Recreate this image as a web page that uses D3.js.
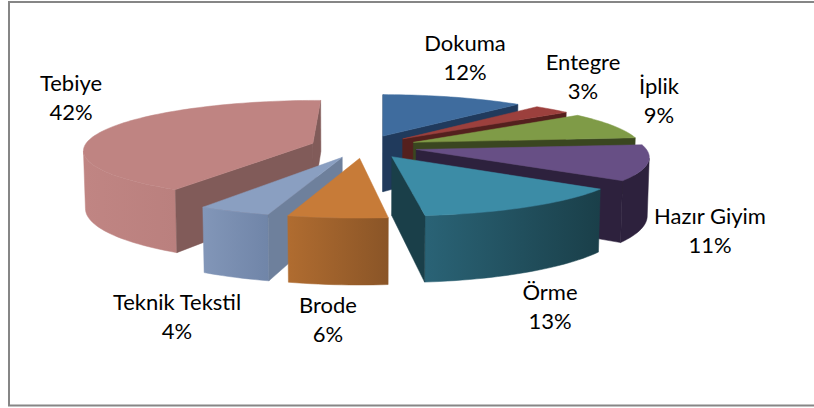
<!DOCTYPE html>
<html><head><meta charset="utf-8">
<script src="https://cdn.jsdelivr.net/npm/d3@7"></script>
<style>html,body{margin:0;padding:0;background:#fff}svg{display:block}text{font-family:Lato,"Open Sans",sans-serif;font-size:22px;fill:#000;text-anchor:middle}</style>
</head><body><svg id="c" width="814" height="408"></svg>
<script>
const categories=["Dokuma","Entegre","İplik","Hazır Giyim","Örme","Brode","Teknik Tekstil","Tebiye"];
const values=[11.5,3,8.8,11.4,13.4,6,4.4,41.5];
const topColors=["#3F6C9E","#9C403D","#7F9B47","#674F85","#3C8CA6","#C77B38","#8A9FC1","#BF8482"];
const wallColors=["#203A5C","#54201E","#3A4620","#2D213D","#1A3F49","#8A5527","#6E809C","#815B59"];
const outerFrom=["#2A4A72","#6A2A28","#4A5A28","#2D213D","#2A6376","#B06C30","#8296B8","#C08583"];
const outerTo=["#203A5C","#54201E","#3A4620","#2D213D","#1A3F49","#8A5527","#7085A8","#BA807E"];
const labelCentres=[[465,59],[583,78],[659,102],[710,232],[550,308],[328,321],[177,318],[71,99]];

const W=814,H=408;
const cam={cx:364,cy:146.5,F:1786,D:1000,e:12.4*Math.PI/180,R:128,E:30,h:33,rot:0.6*Math.PI/180};
const sinE=Math.sin(cam.e),cosE=Math.cos(cam.e);
const camY=cam.D*cosE,camZ=cam.D*sinE;
function project(X,Y,Z){
  const depth=cam.D-Y*cosE-Z*sinE;
  return [cam.cx+cam.F*X/depth, cam.cy-cam.F*(Z*cosE-Y*sinE)/depth];
}
const line=d3.line().curve(d3.curveLinear);
const svg=d3.select("#c");
const defs=svg.append("defs");

const arcs=d3.pie().sort(null).value(d=>d).startAngle(cam.rot).endAngle(cam.rot+2*Math.PI)(values).map((a,i)=>{
  const mid=(a.startAngle+a.endAngle)/2;
  return {...a,i,mid,ox:cam.E*Math.sin(mid),oy:-cam.E*Math.cos(mid)};
});
const ordered=arcs.slice().sort((a,b)=>a.oy-b.oy);
const group=svg.selectAll("g.slice").data(ordered).join("g").attr("class","slice");

group.each(function(s){
  const g=d3.select(this);
  const n=Math.max(6,Math.ceil((s.endAngle-s.startAngle)/0.03));
  const angles=d3.range(n+1).map(k=>s.startAngle+(s.endAngle-s.startAngle)*k/n);
  const wx=(a)=>s.ox+cam.R*Math.sin(a), wy=(a)=>s.oy-cam.R*Math.cos(a);
  const pt=(a,Z)=>project(wx(a),wy(a),Z);
  const apexT=project(s.ox,s.oy,0),apexB=project(s.ox,s.oy,-cam.h);
  const topPoly=[apexT,...angles.map(a=>pt(a,0))];
  // visible when the outward normal points to the camera
  const faces=(nx,ny,px,py)=>nx*(0-px)+ny*(camY-py)>0;
  const vis=[];
  for(let k=0;k<n;k++){
    const am=(angles[k]+angles[k+1])/2;
    if(faces(Math.sin(am),-Math.cos(am),wx(am),wy(am))) vis.push(k);
  }
  if(vis.length){
    const aa=[...vis.map(k=>angles[k]),angles[vis[vis.length-1]+1]];
    const poly=[...aa.map(a=>pt(a,0)),...aa.slice().reverse().map(a=>pt(a,-cam.h))];
    const xs=poly.map(p=>p[0]);
    const id="g"+s.i;
    const lg=defs.append("linearGradient").attr("id",id).attr("gradientUnits","userSpaceOnUse")
      .attr("x1",d3.min(xs)).attr("x2",d3.max(xs)).attr("y1",0).attr("y2",0);
    lg.append("stop").attr("offset",0).attr("stop-color",outerFrom[s.i]);
    lg.append("stop").attr("offset",1).attr("stop-color",outerTo[s.i]);
    g.append("path").attr("d",line(poly)+"Z").attr("fill",`url(#${id})`).attr("stroke",`url(#${id})`).attr("stroke-width",.5);
  }
  const sa=s.startAngle,ea=s.endAngle;
  if(faces(-Math.cos(sa),-Math.sin(sa),s.ox,s.oy))
    g.append("path").attr("d",line([apexT,pt(sa,0),pt(sa,-cam.h),apexB])+"Z").attr("fill",wallColors[s.i]).attr("stroke",wallColors[s.i]).attr("stroke-width",.5);
  if(faces(Math.cos(ea),Math.sin(ea),s.ox,s.oy))
    g.append("path").attr("d",line([apexT,pt(ea,0),pt(ea,-cam.h),apexB])+"Z").attr("fill",wallColors[s.i]).attr("stroke",wallColors[s.i]).attr("stroke-width",.5);
  g.append("path").attr("d",line(topPoly)+"Z").attr("fill",topColors[s.i]).attr("stroke",topColors[s.i]).attr("stroke-width",.5);
});

svg.append("path").attr("d",d3.line()([[W,2],[9,2],[9,405.5],[W,405.5]])).attr("fill","none").attr("stroke","#868686").attr("stroke-width",2);

const lab=svg.selectAll("text.lab").data(categories).join("text").attr("class","lab")
  .attr("transform",(d,i)=>`translate(${labelCentres[i][0]},${labelCentres[i][1]})`);
lab.append("tspan").attr("x",0).attr("y",-8).text(d=>d);
lab.append("tspan").attr("x",0).attr("y",21).text((d,i)=>Math.round(values[i])+"%");
</script></body></html>
